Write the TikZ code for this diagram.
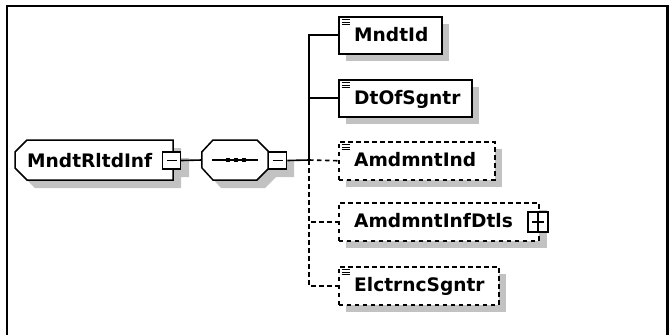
\documentclass[tikz,border=0pt]{standalone}
\usepackage{fontspec}
\setmainfont{DejaVu Sans}
\begin{document}
\begin{tikzpicture}[x=1pt,y=-1pt,
  shade/.style={fill=black!24,draw=none},
  ebox/.style={draw,line width=1.5pt,fill=white,inner sep=0pt,anchor=north west},
  optbox/.style={ebox,dash pattern=on 4.5pt off 3.5pt},
  conn/.style={line width=1.6pt},
  optconn/.style={line width=1.6pt,dash pattern=on 4.5pt off 3.5pt},
  lbl/.style={anchor=base west,inner sep=0pt,font=\fontsize{18.6}{20}\selectfont\bfseries},
  sbox/.style={draw,line width=1.4pt,fill=white,inner sep=0pt,minimum width=18pt,minimum height=17pt},
  icon/.style={line width=1pt}]
\useasboundingbox (0,0) rectangle (671,335);
% frame
\draw[line width=2.3pt] (7,335) -- (7,6) -- (667.5,6) -- (667.5,335);

% ---------- shadows ----------
\fill[shade] (23,160) -- (35,148) -- (181,148) -- (181,158) -- (189,158) -- (189,177) -- (181,177) -- (181,188) -- (35,188) -- (23,176) -- cycle;
\fill[shade] (210,168) -- (221,148) -- (265,148) -- (276,160) -- (294,160) -- (294,177) -- (276,177) -- (265,188) -- (221,188) -- (210,176) -- cycle;
\fill[shade] (346,24) rectangle (449,61);
\fill[shade] (346,87) rectangle (479,124);
\fill[shade] (346,149) rectangle (502,187);
\fill[shade] (346,210) rectangle (547,248);
\fill[shade] (346,274) rectangle (506,312);

% ---------- root element ----------
\draw[line width=1.5pt,fill=white] (15,152) -- (27,140) -- (173,140) -- (173,180) -- (27,180) -- (15,168) -- cycle;
\node[lbl] (roott) at (27,167) {MndtRltdInf};
\node[sbox] (rootm) at (171.5,160.5) {};
\draw[line width=1.2pt] ([xshift=-5pt]rootm.center) -- ([xshift=5pt]rootm.center);

% ---------- sequence compositor ----------
\node[minimum width=66pt,minimum height=40pt,inner sep=0pt] (seq) at (235,160) {};
\draw[line width=1.5pt,fill=white] (seq.west) ++(0,-8) -- (213,140) -- (257,140) -- (268,151) -- (268,169) -- (257,180) -- (213,180) -- (202,168) -- cycle;
\draw[line width=1.4pt] (212,160) -- (258,160);
\foreach \xx in {228,236,244} \fill (\xx-2.4,157.6) rectangle (\xx+2.4,162.4);
\node[sbox,anchor=west] (seqm) at (268,160.5) {};
\draw[line width=1.2pt] ([xshift=-5pt]seqm.center) -- ([xshift=5pt]seqm.center);

% ---------- child elements ----------
\node[ebox,minimum width=103pt,minimum height=37pt] (mndtid) at (338,16) {};
\node[lbl] (mndtidt) at (354,41.3) {MndtId};
\node[ebox,minimum width=133pt,minimum height=37pt] (dtof) at (338,79) {};
\node[lbl] (dtoft) at (354,104.3) {DtOfSgntr};
\node[optbox,minimum width=156pt,minimum height=38pt] (amd) at (338,141) {};
\node[lbl] (amdt) at (354,166.8) {AmdmntInd};
\node[optbox,minimum width=200pt,minimum height=38pt] (amdinf) at (338,202) {};
\node[lbl] (amdinft) at (354,227.8) {AmdmntInfDtls};
\node[sbox,minimum width=20pt,minimum height=20pt] (amdinfp) at (538,222) {};
\draw[line width=1.2pt] ([xshift=-6pt]amdinfp.center) -- ([xshift=6pt]amdinfp.center);
\draw[line width=1.2pt] (amdinfp.north) -- (amdinfp.south);
\node[optbox,minimum width=160pt,minimum height=38pt] (elct) at (338,266) {};
\node[lbl] (elctt) at (354,291.8) {ElctrncSgntr};

% type icons
\foreach \n in {mndtid,dtof,amd,elct}{
  \draw[icon] ([shift={(3.5pt,-3.5pt)}]\n.north west) -- ++(8pt,0);
  \draw[icon] ([shift={(3.5pt,-6pt)}]\n.north west) -- ++(8pt,0);
  \draw[icon] ([shift={(3.5pt,-8.5pt)}]\n.north west) -- ++(8pt,0);
}

% ---------- connectors ----------
\coordinate (trunk) at (309,160);
\draw[conn] (rootm.east) -- (seq.west);
\draw[conn] (seqm.east) -- (trunk);
\draw[conn] (trunk) |- (mndtid.west);
\draw[conn] (trunk) |- (dtof.west);
\draw[optconn] (trunk) -- (amd.west);
\draw[optconn] (trunk) |- (amdinf.west);
\draw[optconn] (trunk) |- (elct.west);
\end{tikzpicture}
\end{document}
